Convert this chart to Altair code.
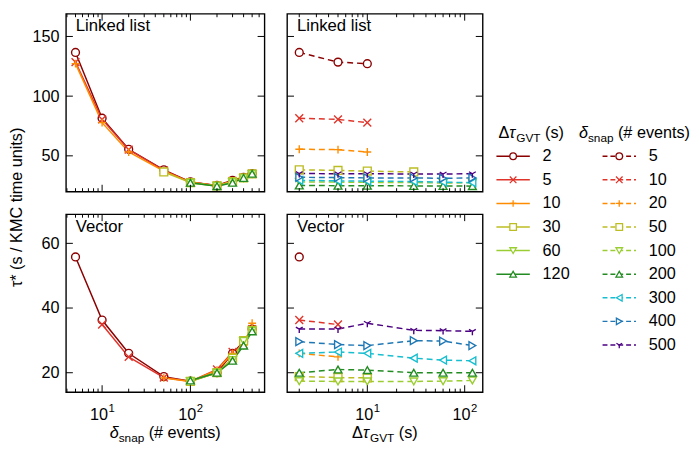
import altair as alt
import pandas as pd

FONT = "Liberation Sans"
NBSP = "\u00a0"

# ---------------- data ----------------
SNAP = [5, 10, 20, 50, 100, 200, 300, 400, 500]      # δsnap (# events)
GVT = [2, 5, 10, 30, 60, 120]                        # ΔτGVT (s)

# rows: δsnap, columns: ΔτGVT ; None = not measured
LINKED = [
    [136.6, 128.5, 127.2, None, None, None],
    [81.5, 80.5, 77.8, None, None, None],
    [55.5, 55.2, 53.2, None, None, None],
    [38.3, 37.8, 37.2, 36.5, None, None],
    [28.2, 28.0, 27.8, 27.6, 27.2, 27.5],
    [25.2, 25.0, 25.0, 24.8, 24.8, 24.6],
    [29.5, 29.0, 28.8, 28.5, 28.0, 27.5],
    [32.0, 31.8, 31.5, 31.5, 31.2, 31.5],
    [35.2, 35.0, 35.0, 34.8, 34.8, 35.0],
]
VECTOR = [
    [55.8, None, None, None, None, None],
    [36.3, 34.9, None, None, None, None],
    [26.0, 24.9, None, None, None, None],
    [18.8, 18.5, 18.4, None, None, None],
    [17.4, 17.3, 17.3, 17.3, 17.4, 17.6],
    [20.0, 21.0, 20.8, 20.0, 20.0, 20.0],
    [26.0, 26.4, 26.0, 24.5, 23.9, 23.7],
    [29.6, 28.7, 28.4, 29.9, 29.8, 28.4],
    [33.5, 33.5, 35.3, 33.1, 33.0, 32.8],
]
PANEL_LABELS = ["Linked list", "Vector"]
Y_TITLE = "τ* (s / KMC time units)"

GVT_COLORS = ["#8B0000", "#E0342A", "#FF8C00", "#BCBD22", "#9ACD32", "#228B22"]
SNAP_COLORS = ["#8B0000", "#E0342A", "#FF8C00", "#BCBD22", "#9ACD32", "#228B22",
               "#17BECF", "#1F77B4", "#4B0082"]
X_PATH = "M-1,-1L1,1M-1,1L1,-1"
PLUS_PATH = "M-1,0L1,0M0,-1L0,1"
TRI_PATH = "M0,0L0,1M0,0L-0.866,-0.5M0,0L0.866,-0.5"
GVT_SHAPES = ["circle", X_PATH, PLUS_PATH, "square", "triangle-down", "triangle-up"]
SNAP_SHAPES = GVT_SHAPES + ["triangle-left", "triangle-right", TRI_PATH]

SNAP_TICKS_MAJOR = [10, 100]
SNAP_TICKS_MINOR = [4, 5, 6, 7, 8, 9, 20, 30, 40, 50, 60, 70, 80, 90, 200, 300, 400, 500, 600]
GVT_TICKS_MAJOR = [10, 100]
GVT_TICKS_MINOR = [2, 3, 4, 5, 6, 7, 8, 9, 20, 30, 40, 50, 60, 70, 80, 90]
X_TICK_BASE = ["10", "10"]
X_TICK_EXP = ["1", "2"]
LINKED_YTICKS = [50, 100, 150]
VECTOR_YTICKS = [20, 40, 60]

SNAP_DOMAIN = [3.9, 690]
GVT_DOMAIN = [1.5, 153]
LINKED_DOMAIN = [20, 169]
VECTOR_DOMAIN = [14, 69]

# (text, font size, italic, baseline shift, extra gap after)
SNAP_TITLE = [("δ", 16.5, True, 0, 0), ("snap", 12, False, 4, 4.5),
              ("(# events)", 16.5, False, 0, 0)]
GVT_TITLE = [("Δ", 16.5, False, 0, 0), ("τ", 16.5, True, 0, 0), ("GVT", 12, False, 4, 4.5),
             ("(s)", 16.5, False, 0, 0)]

W_L, W_R, H = 202, 199, 181
MAJ, MIN = 7, 3.5

ADV = {" ": 278, NBSP: 278, "#": 556, "(": 333, ")": 333, "*": 389, "/": 278, "s": 500, "n": 556,
       "a": 556, "p": 556, "e": 556, "v": 500, "t": 278, "G": 778, "V": 667, "T": 611,
       "Δ": 668, "τ": 440, "δ": 556}


def tw(s, size):
    return sum(ADV.get(c, 556) for c in s) * size / 1000.0


def title_layers(pieces, x0, base_y):
    layers = []
    x = x0
    for t, s, it, dy, gap in pieces:
        layers.append(
            alt.Chart(pd.DataFrame({"t": [t]})).mark_text(
                align="left", baseline="alphabetic", font=FONT, fontSize=s,
                fontStyle="italic" if it else "normal", color="black"
            ).encode(text="t:N", x=alt.value(x), y=alt.value(base_y + dy))
        )
        x += tw(t, s) + gap
    return layers


def centered_title(pieces, cx, base_y):
    total = sum(tw(t, s) + g for t, s, _, _, g in pieces)
    return title_layers(pieces, cx - total / 2.0, base_y)


def long_table(table):
    rows = []
    for i, s in enumerate(SNAP):
        for j, g in enumerate(GVT):
            v = table[i][j]
            if v is not None:
                rows.append({"snap": s, "gvt": g, "tau": v, "snap_k": str(s), "gvt_k": str(g)})
    return pd.DataFrame(rows)


def rules_x(vals, xs, length, top, h):
    return alt.Chart(pd.DataFrame({"v": vals})).mark_rule(color="black", strokeWidth=1).encode(
        x=alt.X("v:Q", scale=xs, axis=None),
        y=alt.value(0 if top else h), y2=alt.value(length if top else h - length))


def rules_y(vals, ys, yaxis, length, right, w):
    return alt.Chart(pd.DataFrame({"v": vals})).mark_rule(color="black", strokeWidth=1).encode(
        y=alt.Y("v:Q", scale=ys, axis=yaxis),
        x=alt.value(w if right else 0), x2=alt.value(w - length if right else length))


def x_tick_labels(major, xs, h):
    df = pd.DataFrame({"v": major, "base": X_TICK_BASE, "exp": X_TICK_EXP})
    base = alt.Chart(df).mark_text(align="right", baseline="alphabetic", dx=6, font=FONT,
                                   fontSize=16.5, color="black").encode(
        x=alt.X("v:Q", scale=xs, axis=None), y=alt.value(h + 28), text="base:N")
    sup = alt.Chart(df).mark_text(align="left", baseline="alphabetic", dx=6.5, font=FONT,
                                  fontSize=11.5, color="black").encode(
        x=alt.X("v:Q", scale=xs, axis=None), y=alt.value(h + 20), text="exp:N")
    return [base, sup]


def panel(df, snap_on_x, ydomain, yticks, label, show_x, show_y, extra=()):
    if snap_on_x:
        xf, kf, keys, cols, shps = "snap", "gvt_k", [str(g) for g in GVT], GVT_COLORS, GVT_SHAPES
        xdom, major, minor, w, dash = SNAP_DOMAIN, SNAP_TICKS_MAJOR, SNAP_TICKS_MINOR, W_L, None
    else:
        xf, kf, keys, cols, shps = "gvt", "snap_k", [str(s) for s in SNAP], SNAP_COLORS, SNAP_SHAPES
        xdom, major, minor, w, dash = GVT_DOMAIN, GVT_TICKS_MAJOR, GVT_TICKS_MINOR, W_R, [6, 4]
    xs = alt.Scale(type="log", domain=xdom, nice=False)
    ys = alt.Scale(domain=ydomain, nice=False, zero=False)
    if show_y:
        yaxis = alt.Axis(values=yticks, ticks=False, domain=False, grid=False, labelPadding=7,
                         labelFontSize=16.5, labelFont=FONT, labelColor="black", title=None)
    else:
        yaxis = None
    base = alt.Chart(df)
    x_enc = alt.X(f"{xf}:Q", scale=xs, axis=None)
    y_enc = alt.Y("tau:Q", scale=ys, axis=yaxis)
    cscale = alt.Scale(domain=keys, range=cols)
    line_kw = dict(strokeWidth=1.5)
    if dash:
        line_kw["strokeDash"] = dash
    line = base.mark_line(**line_kw).encode(
        x=x_enc, y=y_enc, color=alt.Color(f"{kf}:N", scale=cscale, legend=None))
    pts = base.mark_point(filled=True, fill="white", fillOpacity=1, size=64, strokeWidth=1.4,
                          opacity=1).encode(
        x=x_enc, y=y_enc,
        stroke=alt.Stroke(f"{kf}:N", scale=cscale, legend=None),
        shape=alt.Shape(f"{kf}:N", scale=alt.Scale(domain=keys, range=shps), legend=None))
    ticks = [
        rules_x(major, xs, MAJ, False, H), rules_x(minor, xs, MIN, False, H),
        rules_x(major, xs, MAJ, True, H), rules_x(minor, xs, MIN, True, H),
        rules_y(yticks, ys, yaxis, MAJ, False, w), rules_y(yticks, ys, yaxis, MAJ, True, w),
    ]
    if show_x:
        ticks += x_tick_labels(major, xs, H)
    lab = alt.Chart(pd.DataFrame({"t": [label]})).mark_text(
        align="left", baseline="alphabetic", font=FONT, fontSize=17, color="black"
    ).encode(text="t:N", x=alt.value(10), y=alt.value(18))
    return alt.layer(line, pts, *ticks, lab, *extra).properties(width=w, height=H)


dl = long_table(LINKED)
dv = long_table(VECTOR)

tl = panel(dl, True, LINKED_DOMAIN, LINKED_YTICKS, PANEL_LABELS[0], False, True)
tr = panel(dl, False, LINKED_DOMAIN, LINKED_YTICKS, PANEL_LABELS[0], False, False)
bl = panel(dv, True, VECTOR_DOMAIN, VECTOR_YTICKS, PANEL_LABELS[1], True, True,
           centered_title(SNAP_TITLE, W_L / 2.0, H + 47))
br = panel(dv, False, VECTOR_DOMAIN, VECTOR_YTICKS, PANEL_LABELS[1], True, False,
           centered_title(GVT_TITLE, W_R / 2.0, H + 47))

grid = alt.concat(tl, tr, bl, br, columns=2, spacing=19).resolve_scale(
    color="independent", stroke="independent", shape="independent")

# ---------------- y title (spans both rows) ----------------
ytitle = alt.Chart(pd.DataFrame({"t": [Y_TITLE]})).mark_text(
    angle=270, align="center", baseline="middle", font=FONT, fontSize=16.5, color="black"
).encode(text="t:N", x=alt.value(8), y=alt.value(197)).properties(
    width=16, height=2 * H + 19, view=alt.ViewBackground(stroke="transparent"))

# ---------------- legend panel ----------------
leg_g = pd.DataFrame({"row": list(range(len(GVT))), "lab": [str(g) for g in GVT],
                      "col": GVT_COLORS, "shp": GVT_SHAPES})
leg_s = pd.DataFrame({"row": list(range(len(SNAP))), "lab": [str(s) for s in SNAP],
                      "col": SNAP_COLORS, "shp": SNAP_SHAPES})
ly = alt.Scale(domain=[0, 8], range=[145, 337], nice=False, zero=False)


def legend_block(df, x0, dash):
    y = alt.Y("row:Q", scale=ly, axis=None)
    kw = dict(strokeWidth=1.5)
    if dash:
        kw["strokeDash"] = dash
    ln = alt.Chart(df).mark_rule(**kw).encode(
        y=y, x=alt.value(x0), x2=alt.value(x0 + 34), color=alt.Color("col:N", scale=None))
    pt = alt.Chart(df).mark_point(filled=True, fill="white", fillOpacity=1, size=45,
                                  strokeWidth=1.3, opacity=1).encode(
        y=y, x=alt.value(x0 + 17), stroke=alt.Stroke("col:N", scale=None),
        shape=alt.Shape("shp:N", scale=None))
    tx = alt.Chart(df).mark_text(align="left", baseline="middle", font=FONT, fontSize=16.5,
                                 color="black").encode(
        y=y, x=alt.value(x0 + 47), text="lab:N")
    return [ln, pt, tx]


legend = alt.layer(
    *legend_block(leg_g, 7, None),
    *legend_block(leg_s, 115, [5, 3]),
    *title_layers(GVT_TITLE, 9, 126),
    *title_layers(SNAP_TITLE, 91, 126),
).properties(width=195, height=360, view=alt.ViewBackground(stroke="transparent"))

chart = alt.hconcat(ytitle, grid, legend, spacing=4).properties(
    padding={"left": 0, "top": 0, "right": 0, "bottom": 0}
).configure_view(stroke="black", strokeWidth=1.4)

chart.save("out.html", embed_options={"renderer": "svg", "actions": False})
